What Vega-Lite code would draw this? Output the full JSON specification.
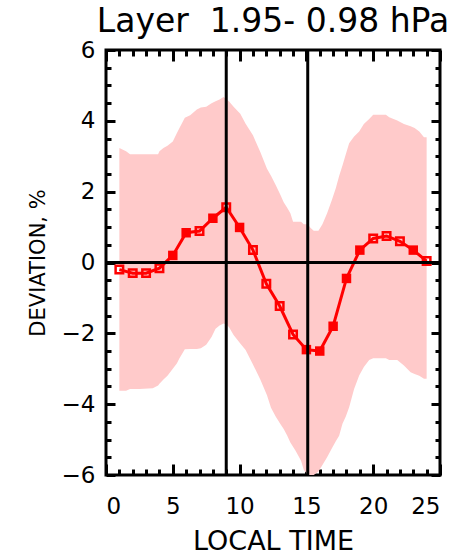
{
  "$schema": "https://vega.github.io/schema/vega-lite/v6.json",
  "autosize": {"type": "none"},
  "padding": {"left": 106, "top": 50, "right": 32, "bottom": 82},
  "width": 334,
  "height": 425,
  "background": "white",
  "view": {"stroke": "black", "strokeWidth": 3},
  "title": {"text": "Layer\u00a0 1.95- 0.98 hPa", "fontSize": 33, "fontWeight": "normal", "font": "DejaVu Sans", "color": "black", "offset": 0, "anchor": "middle"},
  "datasets": {
    "band": [
      {"t": 1.0, "hi": 3.23, "lo": -3.62}, {"t": 1.5, "hi": 3.14, "lo": -3.62}, {"t": 1.8, "hi": 3.06, "lo": -3.57},
      {"t": 2.5, "hi": 3.06, "lo": -3.57}, {"t": 3.5, "hi": 3.06, "lo": -3.55}, {"t": 3.9, "hi": 3.06, "lo": -3.47},
      {"t": 4.0, "hi": 3.14, "lo": -3.42}, {"t": 4.3, "hi": 3.23, "lo": -3.3}, {"t": 4.6, "hi": 3.3, "lo": -3.2},
      {"t": 5.0, "hi": 3.42, "lo": -3.0}, {"t": 5.3, "hi": 3.65, "lo": -2.85}, {"t": 5.5, "hi": 3.8, "lo": -2.7},
      {"t": 5.9, "hi": 4.09, "lo": -2.45}, {"t": 6.3, "hi": 4.16, "lo": -2.44}, {"t": 6.8, "hi": 4.32, "lo": -2.44},
      {"t": 7.1, "hi": 4.38, "lo": -2.42}, {"t": 7.5, "hi": 4.4, "lo": -2.32}, {"t": 7.9, "hi": 4.5, "lo": -2.1},
      {"t": 8.2, "hi": 4.55, "lo": -1.87}, {"t": 8.5, "hi": 4.6, "lo": -1.78}, {"t": 8.8, "hi": 4.67, "lo": -1.72},
      {"t": 9.0, "hi": 4.62, "lo": -1.75}, {"t": 9.2, "hi": 4.55, "lo": -1.82}, {"t": 9.55, "hi": 4.4, "lo": -2.05},
      {"t": 10.05, "hi": 4.2, "lo": -2.29}, {"t": 10.45, "hi": 3.92, "lo": -2.47}, {"t": 11.0, "hi": 3.59, "lo": -2.88},
      {"t": 11.55, "hi": 3.12, "lo": -3.3}, {"t": 12.05, "hi": 2.65, "lo": -3.75}, {"t": 12.35, "hi": 2.45, "lo": -4.1},
      {"t": 12.7, "hi": 2.19, "lo": -4.35}, {"t": 13.05, "hi": 1.91, "lo": -4.56}, {"t": 13.3, "hi": 1.7, "lo": -4.7},
      {"t": 13.55, "hi": 1.55, "lo": -4.88}, {"t": 13.8, "hi": 1.39, "lo": -5.08}, {"t": 14.0, "hi": 1.15, "lo": -5.2},
      {"t": 14.2, "hi": 1.15, "lo": -5.32}, {"t": 14.6, "hi": 1.15, "lo": -5.6}, {"t": 14.8, "hi": 1.08, "lo": -5.85},
      {"t": 15.1, "hi": 1.08, "lo": -6.0}, {"t": 15.3, "hi": 0.98, "lo": -6.0}, {"t": 15.55, "hi": 0.9, "lo": -6.0},
      {"t": 15.9, "hi": 0.9, "lo": -5.9}, {"t": 16.2, "hi": 1.08, "lo": -5.72}, {"t": 16.55, "hi": 1.39, "lo": -5.5},
      {"t": 16.9, "hi": 1.76, "lo": -5.25}, {"t": 17.2, "hi": 2.1, "lo": -5.05}, {"t": 17.45, "hi": 2.44, "lo": -4.89},
      {"t": 17.7, "hi": 2.74, "lo": -4.55}, {"t": 17.95, "hi": 3.06, "lo": -4.35}, {"t": 18.2, "hi": 3.37, "lo": -4.09},
      {"t": 18.57, "hi": 3.56, "lo": -3.57}, {"t": 18.95, "hi": 3.7, "lo": -3.19}, {"t": 19.3, "hi": 3.91, "lo": -2.95},
      {"t": 19.7, "hi": 4.05, "lo": -2.75}, {"t": 20.0, "hi": 4.17, "lo": -2.7}, {"t": 20.95, "hi": 4.17, "lo": -2.7},
      {"t": 21.2, "hi": 4.1, "lo": -2.75}, {"t": 21.8, "hi": 4.01, "lo": -2.75}, {"t": 22.3, "hi": 3.91, "lo": -2.91},
      {"t": 22.8, "hi": 3.85, "lo": -3.1}, {"t": 23.1, "hi": 3.8, "lo": -3.15}, {"t": 23.45, "hi": 3.7, "lo": -3.2},
      {"t": 23.8, "hi": 3.54, "lo": -3.28}, {"t": 24.0, "hi": 3.54, "lo": -3.28}
    ],
    "mean": [
      {"t": 1, "dev": -0.2, "kind": "open"}, {"t": 2, "dev": -0.3, "kind": "open"}, {"t": 3, "dev": -0.3, "kind": "open"},
      {"t": 4, "dev": -0.16, "kind": "open"}, {"t": 5, "dev": 0.2, "kind": "filled"}, {"t": 6, "dev": 0.84, "kind": "filled"},
      {"t": 7, "dev": 0.89, "kind": "open"}, {"t": 8, "dev": 1.25, "kind": "filled"}, {"t": 9, "dev": 1.56, "kind": "open"},
      {"t": 10, "dev": 0.99, "kind": "filled"}, {"t": 11, "dev": 0.35, "kind": "open"}, {"t": 12, "dev": -0.6, "kind": "open"},
      {"t": 13, "dev": -1.23, "kind": "open"}, {"t": 14, "dev": -2.03, "kind": "open"}, {"t": 15, "dev": -2.46, "kind": "filled"},
      {"t": 16, "dev": -2.5, "kind": "filled"}, {"t": 17, "dev": -1.8, "kind": "filled"}, {"t": 18, "dev": -0.45, "kind": "filled"},
      {"t": 19, "dev": 0.35, "kind": "filled"}, {"t": 20, "dev": 0.68, "kind": "open"}, {"t": 21, "dev": 0.75, "kind": "open"},
      {"t": 22, "dev": 0.6, "kind": "open"}, {"t": 23, "dev": 0.35, "kind": "filled"}, {"t": 24, "dev": 0.04, "kind": "open"}
    ],
    "marks": [{"t": 9.0}, {"t": 15.1}]
  },
  "resolve": {"axis": {"x": "independent", "y": "independent"}},
  "layer": [
    {
      "data": {"name": "band"},
      "mark": {"type": "area", "color": "#ffcaca"},
      "encoding": {
        "x": {"field": "t", "type": "quantitative", "scale": {"domain": [0, 25], "nice": false, "zero": false},
          "axis": {"orient": "bottom", "values": [0, 5, 10, 15, 20, 25], "labelOverlap": false,
            "domain": false, "ticks": false,
            "grid": true, "gridColor": "black", "gridWidth": 3, "gridOpacity": 1, "gridDash": [11, 403],
            "labelFontSize": 23, "labelColor": "black", "labelPadding": 20, "labelFont": "DejaVu Sans",
            "title": "LOCAL TIME", "titleFontSize": 27, "titleFontWeight": "normal", "titleColor": "black", "titlePadding": 10, "titleFont": "DejaVu Sans"}},
        "y": {"field": "hi", "type": "quantitative", "scale": {"domain": [-6, 6], "nice": false, "zero": false},
          "axis": {"orient": "left", "values": [-6, -4, -2, 0, 2, 4, 6], "format": "d", "labelOverlap": false,
            "domain": false, "ticks": false,
            "grid": true, "gridColor": "black", "gridWidth": 3, "gridOpacity": 1, "gridDash": [9, 316],
            "labelFontSize": 23, "labelColor": "black", "labelPadding": 11, "labelFont": "DejaVu Sans",
            "title": "DEVIATION, %", "titleFontSize": 21, "titleFontWeight": "normal", "titleColor": "black", "titlePadding": 13, "titleFont": "DejaVu Sans"}},
        "y2": {"field": "lo"}
      }
    },
    {
      "data": {"name": "mean"},
      "mark": {"type": "line", "color": "#ff0000", "strokeWidth": 3},
      "encoding": {
        "x": {"field": "t", "type": "quantitative",
          "axis": {"orient": "top", "values": [1,2,3,4,6,7,8,9,11,12,13,14,16,17,18,19,21,22,23,24],
            "labels": false, "domain": false, "ticks": false, "title": null,
            "grid": true, "gridColor": "black", "gridWidth": 3, "gridOpacity": 1, "gridDash": [6, 413]}},
        "y": {"field": "dev", "type": "quantitative",
          "axis": {"orient": "right", "values": [-5.5,-5,-4.5,-3.5,-3,-2.5,-1.5,-1,-0.5,0.5,1,1.5,2.5,3,3.5,4.5,5,5.5],
            "labels": false, "domain": false, "ticks": false, "title": null,
            "grid": true, "gridColor": "black", "gridWidth": 3, "gridOpacity": 1, "gridDash": [5, 324]}}
      }
    },
    {
      "data": {"name": "mean"},
      "transform": [{"filter": "datum.kind === 'open'"}],
      "mark": {"type": "point", "shape": "square", "filled": false, "color": "#ff0000", "strokeWidth": 2.5, "size": 56, "opacity": 1},
      "encoding": {
        "x": {"field": "t", "type": "quantitative", "axis": null},
        "y": {"field": "dev", "type": "quantitative", "axis": null}
      }
    },
    {
      "data": {"name": "mean"},
      "transform": [{"filter": "datum.kind === 'filled'"}],
      "mark": {"type": "point", "shape": "square", "filled": true, "color": "#ff0000", "size": 90, "opacity": 1},
      "encoding": {
        "x": {"field": "t", "type": "quantitative", "axis": null},
        "y": {"field": "dev", "type": "quantitative", "axis": null}
      }
    },
    {
      "data": {"name": "marks"},
      "mark": {"type": "rule", "color": "black", "strokeWidth": 3},
      "encoding": {
        "x": {"field": "t", "type": "quantitative", "axis": null}
      }
    },
    {
      "data": {"values": [{"v": 0}]},
      "mark": {"type": "rule", "color": "black", "strokeWidth": 3},
      "encoding": {
        "y": {"field": "v", "type": "quantitative", "axis": null}
      }
    }
  ]
}
